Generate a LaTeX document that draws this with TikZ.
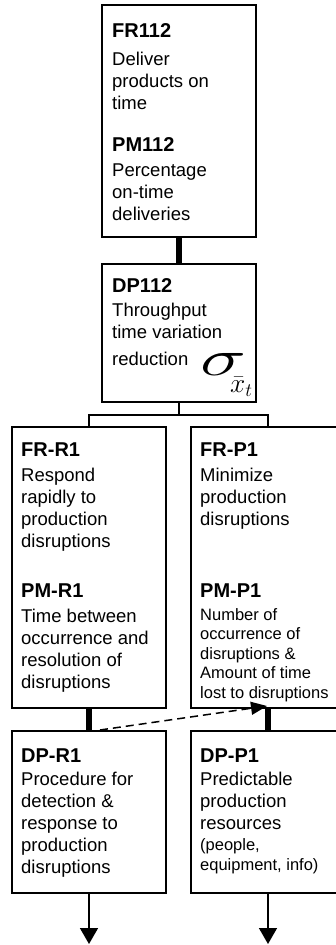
\documentclass[tikz,border=0pt]{standalone}
\usepackage{fontspec}
\usepackage{graphicx}
\setmainfont{Liberation Sans}
\usetikzlibrary{arrows.meta,calc}

% bold heading line of a block
\newcommand{\hdr}[1]{{\bfseries\fontsize{20}{22}\selectfont #1}}
% block of left-aligned lines, baseline on its first line
\newcommand{\blk}[2][150pt]{\parbox[t]{#1}{\raggedright #2}}

\begin{document}
\begin{tikzpicture}[x=1pt,y=-1pt,
  box/.style={draw,line width=1.4pt,minimum width=154pt,inner sep=0pt,outer sep=0pt},
  txt/.style={anchor=base west,inner sep=0pt,font=\fontsize{18.5}{22}\selectfont},
  smalltxt/.style={anchor=base west,inner sep=0pt,font=\fontsize{16.5}{19.5}\selectfont},
  hardlink/.style={line width=6pt},
  treelink/.style={line width=1.5pt},
  dashlink/.style={line width=1.5pt,dash pattern=on 8pt off 5pt,
    -{Triangle[length=16pt,width=13pt]}},
  outlink/.style={line width=1.5pt,-{Triangle[length=16pt,width=18pt]}}
]
\useasboundingbox (0,0) rectangle (336,945);
\fill[white] (0,0) rectangle (336,945);
\clip (0,0) rectangle (336,945);

% boxes
\node[box,minimum height=232pt] (fr112) at (179,121) {};
\node[box,minimum height=138pt] (dp112) at (179,333) {};
\node[box,minimum height=281pt] (frr1) at (89,567.5) {};
\node[box,minimum height=281pt] (frp1) at (268,567.5) {};
\node[box,minimum height=162pt] (dpr1) at (89,812) {};
\node[box,minimum height=162pt] (dpp1) at (268,812) {};

% texts
\node[txt] (fr112a) at (112,37) {\blk[140pt]{\hdr{FR112}\\[6pt]Deliver\\products on\\time}};
\node[txt] (fr112b) at (112,151) {\blk[140pt]{\hdr{PM112}\\[3pt]Percentage\\on-time\\deliveries}};
\node[txt] (dp112a) at (112,292) {\blk[115pt]{\hdr{DP112}\\[2pt]Throughput\\time variation}};
\node[txt] (dp112b) at (112,365) {reduction};
% throughput-time deviation symbol
\node[anchor=base west,inner sep=0pt] (sigma) at (200,375)
  {\resizebox{46pt}{22pt}{\fontsize{24}{24}\selectfont$\sigma$}};
\node[anchor=base west,inner sep=0pt] (sigmasub) at (230,392)
  {\scalebox{1.1}{\fontsize{24}{24}\selectfont$\bar{x}_{t}$}};

\node[txt] (frr1a) at (21,456) {\blk{\hdr{FR-R1}\\[3pt]Respond\\rapidly to\\production\\disruptions}};
\node[txt] (frr1b) at (21,597) {\blk{\hdr{PM-R1}\\[3pt]Time between\\occurrence and\\resolution of\\disruptions}};
\node[txt] (frp1a) at (200,456) {\blk[134pt]{\hdr{FR-P1}\\[3pt]Minimize\\production\\disruptions}};
\node[smalltxt] (frp1b) at (200,597) {\blk[134pt]{\hdr{PM-P1}\\[3.5pt]Number of\\occurrence of\\disruptions \&\\Amount of time\\lost to disruptions}};

\node[txt] (dpr1a) at (21,762) {\blk{\hdr{DP-R1}\\[1pt]Procedure for\\detection \&\\response to\\production\\disruptions}};
\node[txt] (dpp1a) at (200,762) {\blk[134pt]{\hdr{DP-P1}\\[1pt]Predictable\\production\\resources}};
\node[smalltxt,font=\fontsize{16.5}{20}\selectfont] (dpp1b) at (200,850) {\blk[134pt]{(people,\\equipment, info)}};

% connectors
\draw[hardlink] (fr112.south) -- (dp112.north);
\coordinate (split) at ($(dp112.south)+(0,13)$);
\draw[treelink] (dp112.south) -- (split);
\draw[treelink] (frr1.north) |- (split) -| (frp1.north);
\draw[dashlink] ($(dpr1.north)+(11,-1)$) -- ($(frp1.south)+(-1,-2)$);
\draw[hardlink] (frr1.south) -- (dpr1.north);
\draw[hardlink] (frp1.south) -- (dpp1.north);
\coordinate (outl) at (89,944);
\coordinate (outp) at (268,944);
\draw[outlink] (dpr1.south) -- (outl);
\draw[outlink] (dpp1.south) -- (outp);
\end{tikzpicture}
\end{document}
